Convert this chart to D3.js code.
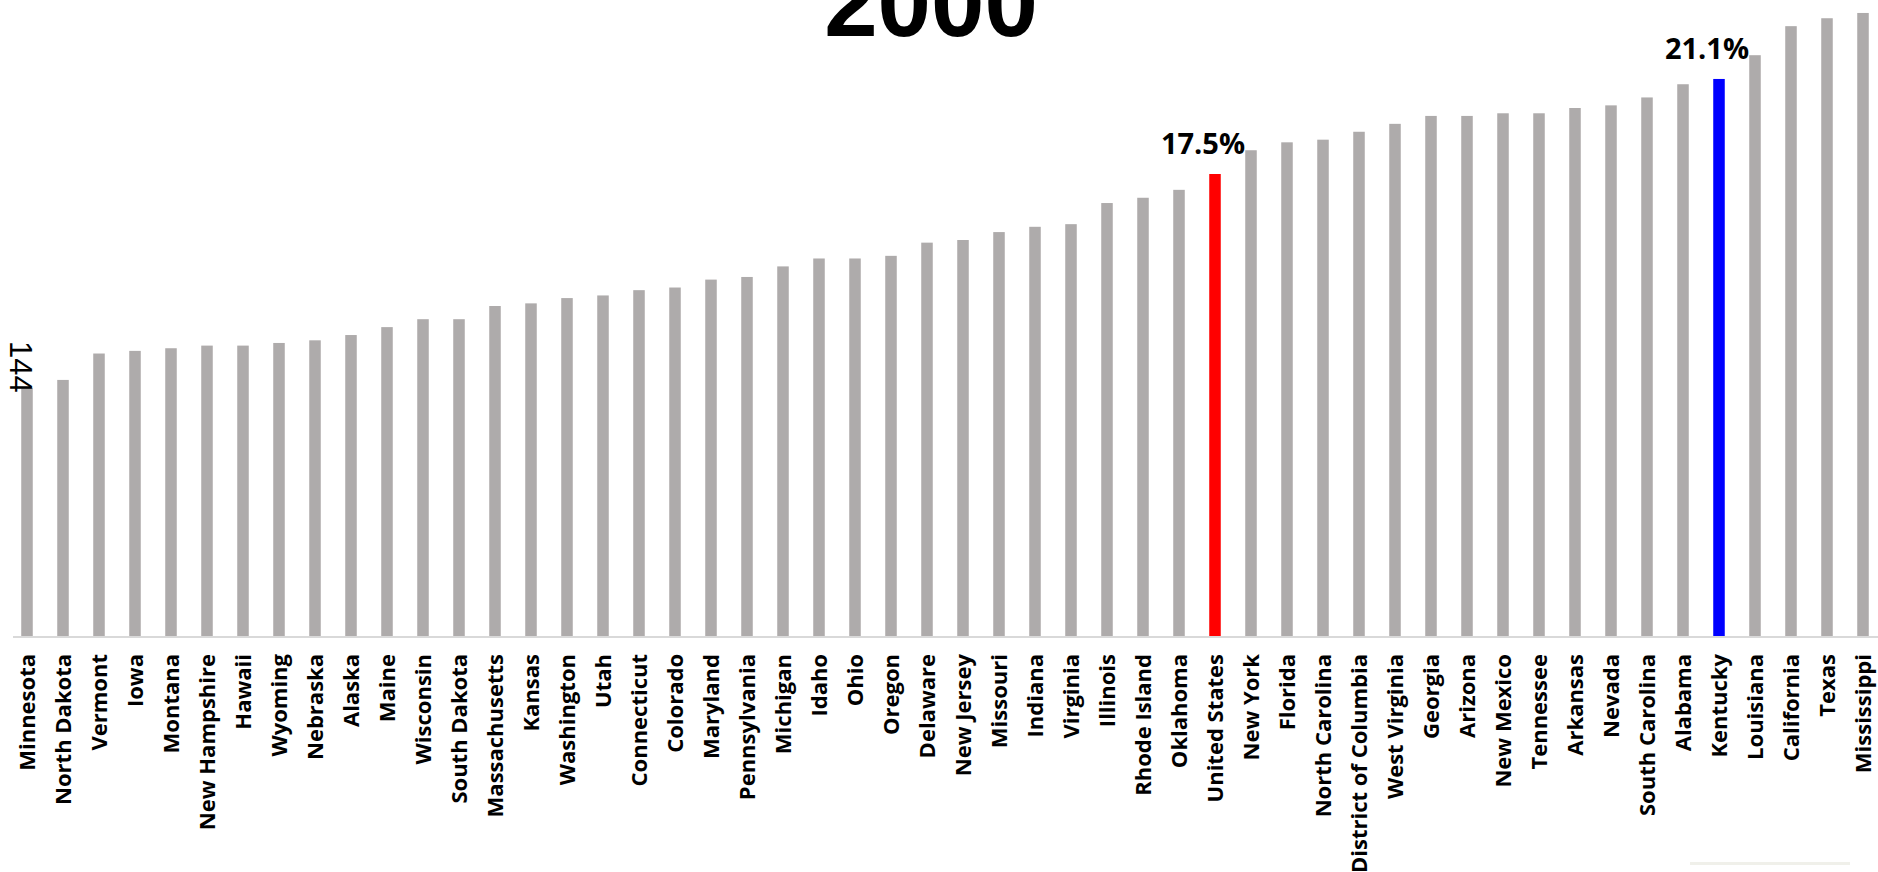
<!DOCTYPE html>
<html>
<head>
<meta charset="utf-8">
<script src="https://cdn.jsdelivr.net/npm/d3@7"></script>
<style>
  html, body { margin: 0; padding: 0; background: #ffffff; overflow: hidden; }
  svg { display: block; }
</style>
</head>
<body>
<svg id="chart" width="1878" height="872"></svg>
<script>
// States ranked from lowest to highest rate, year 2000
const states = [
  "Minnesota", "North Dakota", "Vermont", "Iowa", "Montana", "New Hampshire",
  "Hawaii", "Wyoming", "Nebraska", "Alaska", "Maine", "Wisconsin", "South Dakota",
  "Massachusetts", "Kansas", "Washington", "Utah", "Connecticut", "Colorado",
  "Maryland", "Pennsylvania", "Michigan", "Idaho", "Ohio", "Oregon", "Delaware",
  "New Jersey", "Missouri", "Indiana", "Virginia", "Illinois", "Rhode Island",
  "Oklahoma", "United States", "New York", "Florida", "North Carolina",
  "District of Columbia", "West Virginia", "Georgia", "Arizona", "New Mexico",
  "Tennessee", "Arkansas", "Nevada", "South Carolina", "Alabama", "Kentucky",
  "Louisiana", "California", "Texas", "Mississippi"
];

// Rate (%) for each state, same order as above
const rates = [
  9.4, 9.7, 10.7, 10.8, 10.9, 11.0,
  11.0, 11.1, 11.2, 11.4, 11.7, 12.0, 12.0,
  12.5, 12.6, 12.8, 12.9, 13.1, 13.2,
  13.5, 13.6, 14.0, 14.3, 14.3, 14.4, 14.9,
  15.0, 15.3, 15.5, 15.6, 16.4, 16.6,
  16.9, 17.5, 18.4, 18.7, 18.8,
  19.1, 19.4, 19.7, 19.7, 19.8,
  19.8, 20.0, 20.1, 20.4, 20.9, 21.1,
  22.0, 23.1, 23.4, 23.6
];

// Bars singled out with their own colour and a value label
const highlights = ["United States", "Kentucky"];
const highlightColors = ["#ff0000", "#0000ff"];

const title = "2000";
const cornerNote = "144";

const data = states.map((s, i) => ({ name: s, value: rates[i] }));

const svg = d3.select("#chart");
const baseY = 636;

const x = d3.scaleBand()
  .domain(states)
  .range([9, 1881])
  .paddingInner(0.68)
  .paddingOuter(0.34);

const y = d3.scaleLinear()
  .domain([0, 24])
  .range([baseY, baseY - 24 * 26.4]);

const colorOf = name => {
  const k = highlights.indexOf(name);
  return k >= 0 ? highlightColors[k] : "#aeabab";
};

// Bars
svg.append("g")
  .selectAll("rect")
  .data(data)
  .join("rect")
  .attr("x", d => x(d.name))
  .attr("y", d => y(d.value))
  .attr("width", x.bandwidth())
  .attr("height", d => y(0) - y(d.value))
  .attr("fill", d => colorOf(d.name));

// Category axis: baseline plus rotated state names
const xAxis = d3.axisBottom(x).tickSize(0).tickPadding(0);
const gx = svg.append("g")
  .attr("transform", `translate(0,${baseY + 1})`)
  .call(xAxis);
gx.select(".domain")
  .attr("d", "M13,0H1878")
  .attr("stroke", "#d9d9d9")
  .attr("stroke-width", 2);
gx.selectAll(".tick text")
  .attr("transform", "translate(0,17) rotate(-90)")
  .attr("text-anchor", "end")
  .attr("x", 0)
  .attr("y", 0)
  .attr("dy", "0.36em")
  .attr("fill", "#000")
  .style("font-family", "'Open Sans', sans-serif")
  .style("font-weight", "700")
  .style("font-size", "22px");

// Value labels on highlighted bars
svg.append("g")
  .selectAll("text")
  .data(data.filter(d => highlights.includes(d.name)))
  .join("text")
  .attr("x", d => x(d.name) + x.bandwidth() / 2 - 12)
  .attr("y", d => y(d.value) - 20)
  .attr("text-anchor", "middle")
  .style("font-family", "'Open Sans', sans-serif")
  .style("font-weight", "700")
  .style("font-size", "29px")
  .attr("fill", "#000")
  .text(d => d3.format(".1f")(d.value) + "%");

// Title
svg.append("text")
  .attr("x", 931)
  .attr("y", 36)
  .attr("text-anchor", "middle")
  .style("font-family", "'Liberation Sans', Arial, sans-serif")
  .style("font-weight", "700")
  .style("font-size", "96px")
  .attr("fill", "#000")
  .text(title);

// Stray vertical note at the left edge
svg.append("text")
  .attr("transform", "translate(10,341) rotate(90)")
  .attr("text-anchor", "start")
  .style("font-family", "'Liberation Sans', Arial, sans-serif")
  .style("font-size", "31px")
  .attr("fill", "#000")
  .text(cornerNote);

// Faint footer strip in the lower-right corner
svg.append("rect")
  .attr("x", 1690).attr("y", 862)
  .attr("width", 160).attr("height", 3)
  .attr("fill", "#f0f0ea");
</script>
</body>
</html>
